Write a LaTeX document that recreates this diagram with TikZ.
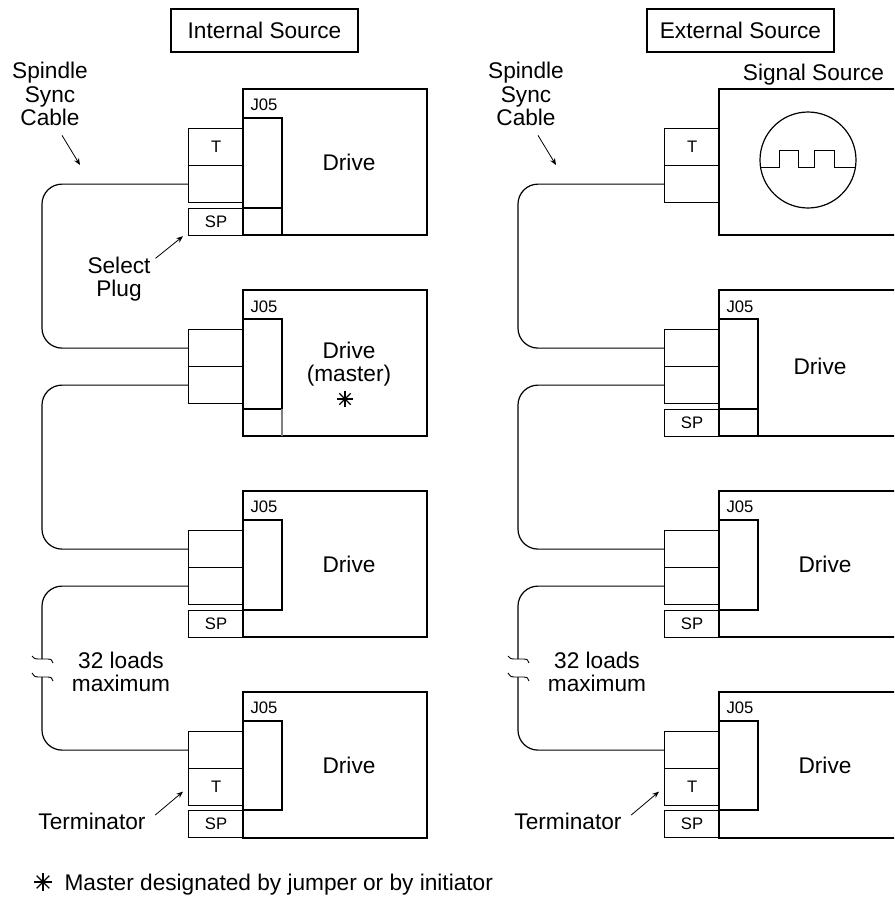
\documentclass[tikz,border=0pt]{standalone}
\usepackage{fontspec}
\setmainfont{Liberation Sans}
\usetikzlibrary{arrows.meta}

\newcommand{\bigtext}{\fontsize{17}{17.6}\selectfont}
\newcommand{\smalltext}{\fontsize{12.5}{14}\selectfont}

\begin{document}
\begin{tikzpicture}[x=0.75pt,y=-0.75pt,line width=0.9pt,
    cell/.style={draw,anchor=north west,inner sep=0pt,minimum width=41.25pt,minimum height=27.75pt,font=\smalltext},
    spcell/.style={cell,minimum height=20.25pt},
    title/.style={draw,inner sep=0pt,minimum width=140.25pt,minimum height=32.25pt,font=\bigtext},
    lbl/.style={font=\bigtext,align=center},
    jlbl/.style={font=\smalltext,anchor=west,inner sep=0pt},
    cable/.style={rounded corners=15pt},
    burst/.style={line width=0.9pt},
    pointer/.style={line width=0.6pt,-{Stealth[length=5pt,width=4pt]}}]
    \useasboundingbox (0,0) rectangle (894,897);
    \clip (0,0) rectangle (894,897);

    % Headings
    \node[title] (intsrc) at (264.5,30.5) {Internal Source};
    \node[title] (extsrc) at (740.5,30.5) {External Source};

    % Left: first drive with select plug
    \draw (243,89) rectangle (427,235);
    \node[jlbl] (L1j) at (250,105) {J05};
    \draw (243,118) rectangle (282,208) (243,208) rectangle (282,235);
    \node[cell] (L1a) at (188,128) {T};
    \node[cell] (L1b) at (188,165) {};
    \node[spcell] (L1sp) at (188,208) {SP};
    \node[lbl] (L1d) at (349,162) {Drive};
    \node[lbl] (Lsel) at (119,279) {Select\\Plug};
    \draw[pointer] ([yshift=-5pt]Lsel.north east) -- ([xshift=-3.75pt]L1sp.south west);

    % Left: master drive
    \draw (243,290) rectangle (427,436);
    \node[jlbl] (L2j) at (250,307) {J05};
    \draw (243,319) rectangle (282,409);
    \draw[gray] (282,409) -- (282,436);
    \node[cell] (L2a) at (188,329) {};
    \node[cell] (L2b) at (188,366) {};
    \node[lbl] (L2d) at (349,364) {Drive\\(master)};
    \foreach \a in {0,45,...,315} \draw[burst] (345,399) -- ++(\a:8);
    \fill (345,399) circle[radius=1.8pt];

    % Right: signal source
    \node[lbl,anchor=base] (R1s) at (813.5,80) {Signal Source};
    \draw (719,89) rectangle (903,235);
    \draw (808,160) circle[radius=36pt];
    \draw[line width=0.7pt] (760.5,167) -- (779,167) -- (779,150) -- (798,150) -- (798,167)
        -- (814,167) -- (814,150) -- (834,150) -- (834,167) -- (855.5,167);
    \node[cell] (R1a) at (664,128) {T};
    \node[cell] (R1b) at (664,165) {};

    % Right: second drive
    \draw (719,290) rectangle (903,436);
    \node[jlbl] (R2j) at (726,307) {J05};
    \draw (719,319) rectangle (758,409) (719,409) rectangle (758,436);
    \node[cell] (R2a) at (664,329) {};
    \node[cell] (R2b) at (664,366) {};
    \node[spcell] (R2sp) at (664,409) {SP};
    \node[lbl] (R2d) at (820,366) {Drive};

    % Parts both sides share
    \foreach \s/\dx in {L/0,R/476}{
        \node[lbl] (\s-cap) at (50+\dx,94) {Spindle\\Sync\\Cable};
        \coordinate (\s-aim) at (80+\dx,165);
        \draw[pointer] ([xshift=9pt,yshift=-3.4pt]\s-cap.south) -- (\s-aim);
        \draw[cable] (\s1b.west) -- ++(-146,0) |- (\s2a.west);

        % third drive
        \draw (243+\dx,491) rectangle (427+\dx,637);
        \node[jlbl] (\s3j) at (250+\dx,507) {J05};
        \draw (243+\dx,520) rectangle (282+\dx,610);
        \node[cell] (\s3a) at (188+\dx,530) {};
        \node[cell] (\s3b) at (188+\dx,567) {};
        \node[spcell] (\s3sp) at (188+\dx,610) {SP};
        \node[lbl] (\s3d) at (349+\dx,564) {Drive};
        \draw[cable] (\s2b.west) -- ++(-146,0) |- (\s3a.west);

        % last drive, terminated
        \draw (243+\dx,692) rectangle (427+\dx,838);
        \node[jlbl] (\s4j) at (250+\dx,708) {J05};
        \draw (243+\dx,721) rectangle (282+\dx,810);
        \node[cell] (\s4a) at (188+\dx,731) {};
        \node[cell] (\s4b) at (188+\dx,768) {T};
        \node[spcell] (\s4sp) at (188+\dx,810) {SP};
        \node[lbl] (\s4d) at (349+\dx,765) {Drive};

        % broken cable between them
        \draw[cable] (\s3b.west) -- ++(-146,0) -- (42+\dx,659);
        \draw[cable] (42+\dx,677) |- (\s4a.west);
        \draw[line width=0.7pt] (32+\dx,656) .. controls (35+\dx,659) .. (38+\dx,659) -- (48+\dx,659)
            .. controls (51+\dx,659) .. (53+\dx,663);
        \draw[line width=0.7pt] (32+\dx,673) .. controls (35+\dx,677) .. (38+\dx,677) -- (48+\dx,677)
            .. controls (51+\dx,677) .. (53+\dx,681);
        \node[lbl] (\s-max) at (121+\dx,672) {32 loads\\maximum};

        \node[lbl] (\s-term) at (92+\dx,821) {Terminator};
        \draw[pointer] ([xshift=3.5pt,yshift=4.5pt]\s-term.east) -- ([xshift=-3.75pt,yshift=-3.4pt]\s4b.west);
    }

    % Footnote
    \foreach \a in {0,45,...,315} \draw[burst] (43,882) -- ++(\a:9);
    \fill (43,882) circle[radius=1.8pt];
    \node[lbl,anchor=base west,inner sep=0pt] (note) at (64,890) {Master designated by jumper or by initiator};
\end{tikzpicture}
\end{document}
